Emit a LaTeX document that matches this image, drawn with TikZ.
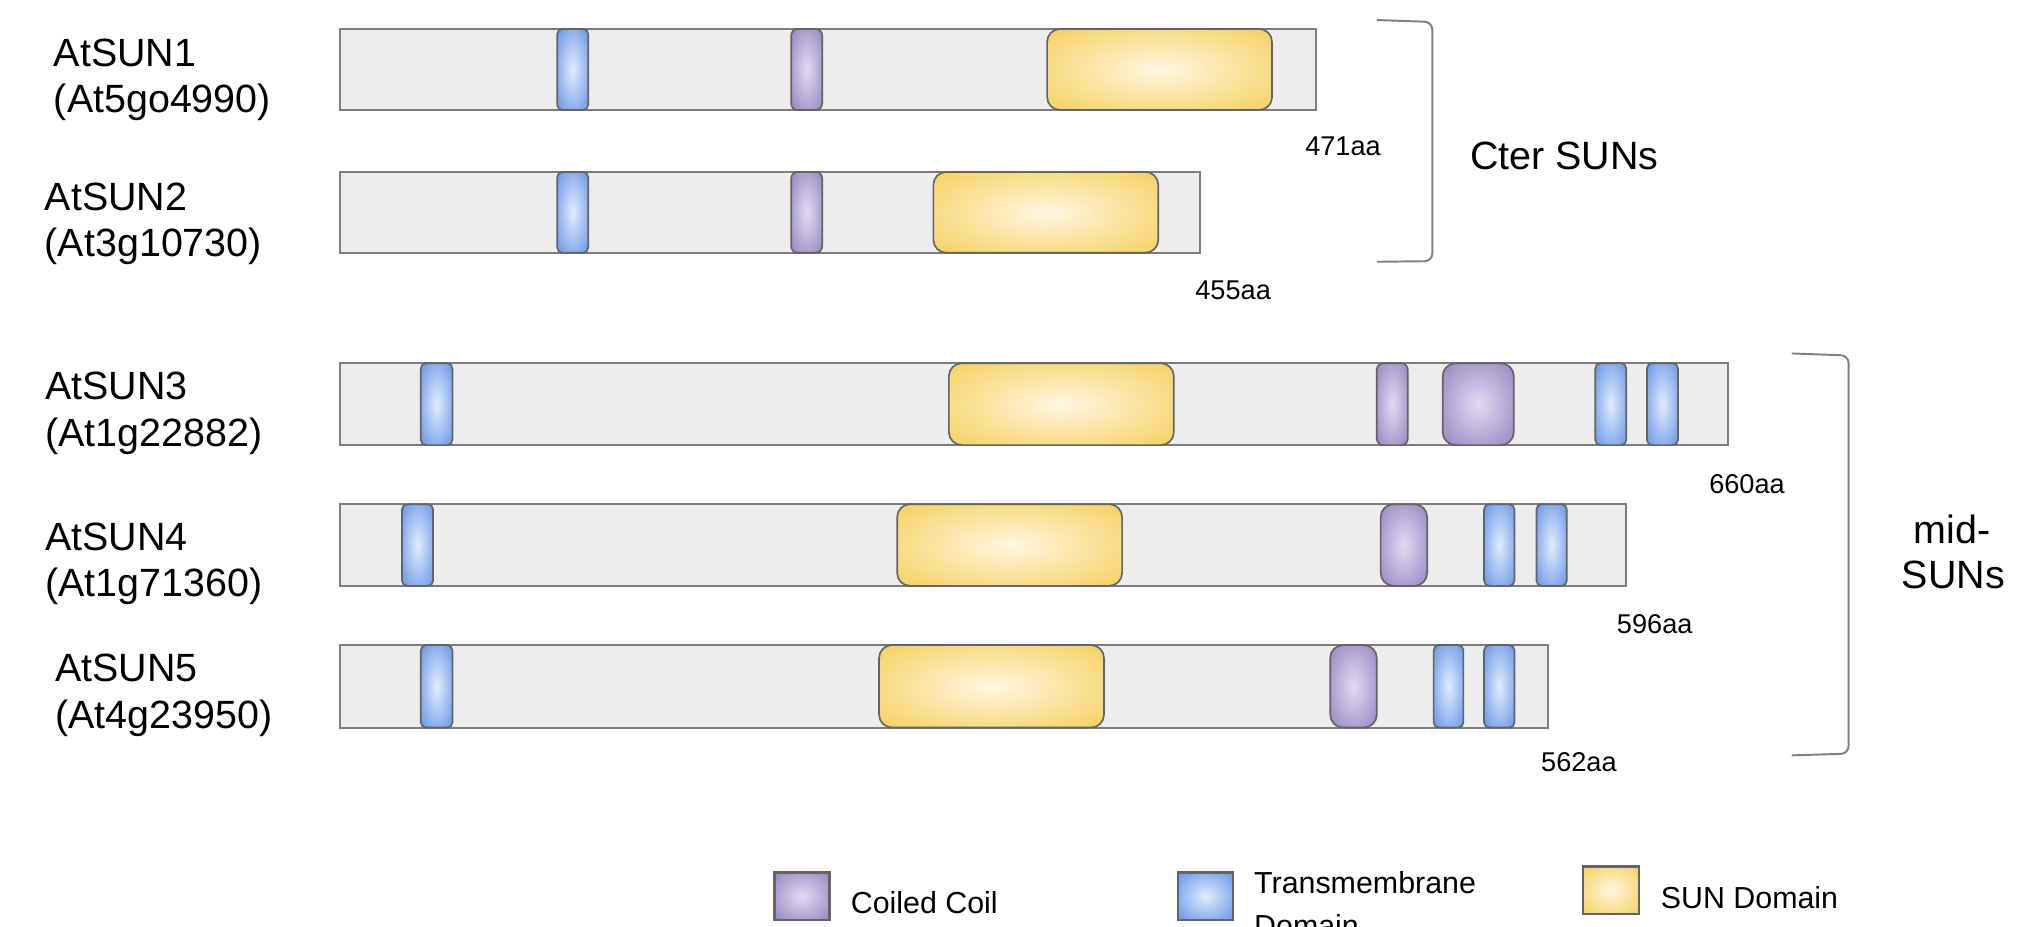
\documentclass[tikz,border=0pt]{standalone}
\usepackage{fontspec}
\setmainfont{Liberation Sans}

% palette
\definecolor{barfill}{RGB}{237,237,237}
\definecolor{barline}{RGB}{125,125,125}
\definecolor{domline}{RGB}{100,100,100}
\definecolor{tmin}{RGB}{226,236,253}
\definecolor{tmout}{RGB}{100,148,230}
\definecolor{ccin}{RGB}{226,219,240}
\definecolor{ccout}{RGB}{148,131,194}
\definecolor{sunin}{RGB}{255,247,224}
\definecolor{sunout}{RGB}{246,207,92}
\definecolor{brk}{RGB}{128,128,128}

% light centre fading to a deeper rim
\pgfdeclareradialshading{tmshade}{\pgfpoint{0bp}{0bp}}{color(0bp)=(tmin); color(36bp)=(tmout); color(50bp)=(tmout)}
\pgfdeclareradialshading{ccshade}{\pgfpoint{0bp}{0bp}}{color(0bp)=(ccin); color(36bp)=(ccout); color(50bp)=(ccout)}
\pgfdeclareradialshading{sunshade}{\pgfpoint{0bp}{0bp}}{color(0bp)=(sunin); color(36bp)=(sunout); color(50bp)=(sunout)}

\tikzset{
  protbar/.style={draw=barline, fill=barfill, line width=1.5pt},
  tmdom/.style={draw=domline, line width=1.3pt, shading=tmshade, rounded corners=4pt},
  ccdom/.style={draw=domline, line width=1.3pt, shading=ccshade, rounded corners=5pt},
  ccbig/.style={draw=domline, line width=1.3pt, shading=ccshade, rounded corners=10pt},
  sundom/.style={draw=domline, line width=1.3pt, shading=sunshade, rounded corners=10pt},
  legbox/.style={draw=domline, line width=1.8pt},
  gene/.style={anchor=base west, inner sep=0pt, font=\fontsize{30.5}{36}\selectfont},
  lenlbl/.style={anchor=base west, inner sep=0pt, font=\fontsize{21}{25}\selectfont},
  grouplbl/.style={inner sep=0pt, font=\fontsize{30.5}{36}\selectfont},
  leglbl/.style={anchor=base west, inner sep=0pt, font=\fontsize{23.5}{28}\selectfont},
  bracket/.style={draw=brk, line width=1.5pt, rounded corners=6pt}
}

% \band{style}{x1}{x2}{ytop}{ybottom}
\newcommand\band[5]{\path[#1] (#2,#4) rectangle (#3,#5);}

\begin{document}
\begin{tikzpicture}[x=1pt, y=-1pt]
\useasboundingbox (0,0) rectangle (1568,717);

% ---- AtSUN1
\band{protbar}{263}{1018}{22.4}{85.1}
\band{tmdom}{431}{455}{22.4}{85.1}
\band{ccdom}{612}{636}{22.4}{85.1}
\band{sundom}{810}{984}{22.4}{85.1}
\node[gene] (g1a) at (41.5,51.6) {AtSUN1};
\node[gene] (g1b) at (41.5,87.4) {(At5go4990)};
\node[lenlbl] (l1) at (1009.5,120) {471aa};

% ---- AtSUN2
\band{protbar}{263}{928.5}{133}{195.5}
\band{tmdom}{431}{455}{133}{195.5}
\band{ccdom}{612}{636}{133}{195.5}
\band{sundom}{722}{896}{133}{195.5}
\node[gene] (g2a) at (34.5,162.5) {AtSUN2};
\node[gene] (g2b) at (34.5,198.7) {(At3g10730)};
\node[lenlbl] (l2) at (924.5,231.5) {455aa};

% ---- AtSUN3
\band{protbar}{263}{1337}{281}{344.3}
\band{tmdom}{325.5}{350}{281}{344.3}
\band{sundom}{734}{908}{281}{344.3}
\band{ccdom}{1065}{1089}{281}{344.3}
\band{ccbig}{1116}{1171}{281}{344.3}
\band{tmdom}{1234}{1258}{281}{344.3}
\band{tmdom}{1274}{1298}{281}{344.3}
\node[gene] (g3a) at (34.8,309.4) {AtSUN3};
\node[gene] (g3b) at (34.8,345.5) {(At1g22882)};
\node[lenlbl] (l3) at (1322,381.7) {660aa};

% ---- AtSUN4
\band{protbar}{263}{1257.5}{390}{453.2}
\band{tmdom}{311}{335}{390}{453.2}
\band{sundom}{694}{868}{390}{453.2}
\band{ccbig}{1068}{1104}{390}{453.2}
\band{tmdom}{1148}{1171.5}{390}{453.2}
\band{tmdom}{1188.5}{1212}{390}{453.2}
\node[gene] (g4a) at (34.8,425.5) {AtSUN4};
\node[gene] (g4b) at (34.8,461.6) {(At1g71360)};
\node[lenlbl] (l4) at (1250.6,490) {596aa};

% ---- AtSUN5
\band{protbar}{263}{1197.5}{499}{562.8}
\band{tmdom}{325.5}{350}{499}{562.8}
\band{sundom}{680}{854}{499}{562.8}
\band{ccbig}{1029}{1065}{499}{562.8}
\band{tmdom}{1109}{1132}{499}{562.8}
\band{tmdom}{1148}{1171.5}{499}{562.8}
\node[gene] (g5a) at (42.5,527.3) {AtSUN5};
\node[gene] (g5b) at (42.5,563.4) {(At4g23950)};
\node[lenlbl] (l5) at (1192,597) {562aa};

% ---- group brackets
\coordinate (b1a) at (1065,15.5);
\coordinate (b1b) at (1108,17);
\coordinate (b1c) at (1108,202);
\coordinate (b1d) at (1065,202.5);
\draw[bracket] (b1a) -- (b1b) -- (b1c) -- (b1d);
\node[grouplbl, anchor=base west] (cter) at (1137,131) {Cter SUNs};

\coordinate (b2a) at (1386,273.4);
\coordinate (b2b) at (1430,275);
\coordinate (b2c) at (1430,583);
\coordinate (b2d) at (1386,584.3);
\draw[bracket] (b2a) -- (b2b) -- (b2c) -- (b2d);
\node[grouplbl, anchor=base] (mid1) at (1510,420.5) {mid-};
\node[grouplbl, anchor=base] (mid2) at (1511,455.5) {SUNs};

% ---- legend
\path[legbox, shading=ccshade] (599,675) rectangle (641.7,711.6);
\node[leglbl] (k1) at (658,707) {Coiled Coil};
\path[legbox, shading=tmshade] (911.4,675) rectangle (954,711.6);
\node[leglbl] (k2a) at (970,691.3) {Transmembrane};
\node[leglbl] (k2b) at (970,724.5) {Domain};
\path[legbox, shading=sunshade] (1224.3,670.4) rectangle (1268,707);
\node[leglbl] (k3) at (1284.6,702.6) {SUN Domain};
\end{tikzpicture}
\end{document}
